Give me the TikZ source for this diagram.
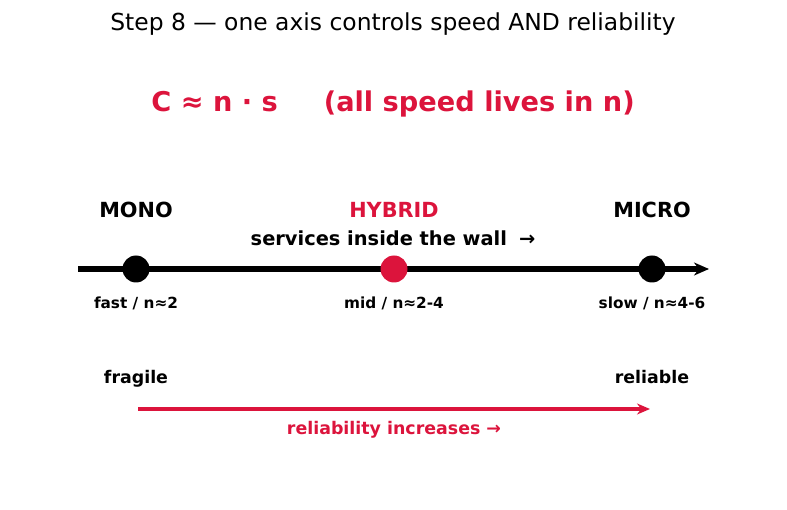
\documentclass[tikz,border=0pt]{standalone}
\usepackage{fontspec}
\setmainfont{DejaVu Sans}
\usetikzlibrary{arrows.meta}
\definecolor{crim}{HTML}{DC143C}
\tikzset{
    dot/.style={circle,fill=black,inner sep=0pt,minimum size=27pt},
    hdot/.style={circle,fill=crim,inner sep=0pt,minimum size=27pt},
    tier/.style={font=\bfseries\fontsize{20.8}{24}\selectfont},
    cost/.style={font=\bfseries\fontsize{15.3}{18}\selectfont},
    side/.style={anchor=base,font=\bfseries\fontsize{17.4}{20}\selectfont},
    axis/.style={-{Stealth[length=15pt,width=13pt]},line width=6pt,draw=black},
    rel/.style={-{Stealth[length=13pt,width=11pt]},line width=3.6pt,draw=crim},
}
\begin{document}
\begin{tikzpicture}[x=1pt,y=-1pt]
    \useasboundingbox (0,0) rectangle (787,510);
    \node (title) at (393,24) {\fontsize{23.4}{28}\selectfont Step 8 — one axis controls speed AND reliability};
    \node[text=crim,font=\bfseries\fontsize{27.2}{32}\selectfont] (formula) at (393,104) {C ≈ n · s\hspace{46pt}(all speed lives in n)};
    \coordinate (a0) at (78,269);
    \coordinate (a1) at (709,269);
    \draw[axis] (a0) -- (a1);
    \node[dot] (mono) at (136,269) {};
    \node[hdot] (hybrid) at (394,269) {};
    \node[dot] (micro) at (652,269) {};
    \node[tier] (l1) at (136,210) {MONO};
    \node[tier,text=crim] (l2) at (394,210) {HYBRID};
    \node[tier] (l3) at (652,210) {MICRO};
    \node[font=\bfseries\fontsize{19.4}{22}\selectfont] (wall) at (393,238) {services inside the wall\hspace{12pt}→};
    \node[cost] (c1) at (136,303) {fast / n≈2};
    \node[cost] (c2) at (394,303) {mid / n≈2-4};
    \node[cost] (c3) at (652,303) {slow / n≈4-6};
    \node[side] (frag) at (136,384) {fragile};
    \node[side] (reli) at (652,384) {reliable};
    \coordinate (r0) at (138,409);
    \coordinate (r1) at (650,409);
    \draw[rel] (r0) -- (r1);
    \node[side,anchor=center,text=crim] (inc) at (394,430) {reliability increases →};
\end{tikzpicture}
\end{document}
